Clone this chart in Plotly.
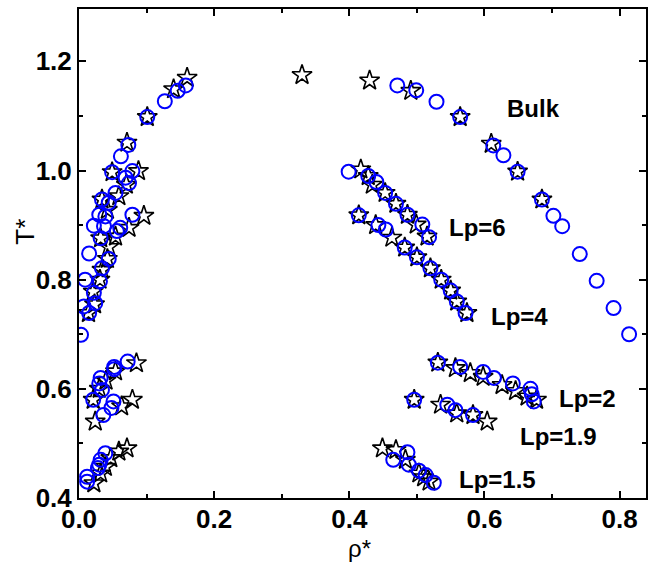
import plotly.graph_objects as go

# ---------------- data (rho*, T*) ----------------
# Bulk
bulk_circ_rho = [0.003, 0.007, 0.009, 0.015, 0.022, 0.030, 0.034, 0.049, 0.062, 0.073, 0.101, 0.127, 0.146, 0.158,
                 0.471, 0.499, 0.529, 0.564, 0.613, 0.628, 0.649, 0.685, 0.702, 0.715, 0.741, 0.766, 0.791, 0.814]
bulk_circ_T = [0.699, 0.751, 0.800, 0.848, 0.899, 0.919, 0.947, 0.997, 1.026, 1.047, 1.098, 1.127, 1.146, 1.156,
               1.156, 1.147, 1.126, 1.098, 1.046, 1.028, 0.998, 0.947, 0.917, 0.898, 0.847, 0.798, 0.748, 0.700]
bulk_star_rho = [0.034, 0.049, 0.071, 0.101, 0.140, 0.160, 0.330, 0.430, 0.491, 0.564, 0.610, 0.649, 0.685]
bulk_star_T = [0.947, 0.997, 1.051, 1.098, 1.149, 1.170, 1.175, 1.165, 1.146, 1.098, 1.049, 0.998, 0.947]

# Lp = 6
lp6_circ_rho = [0.079, 0.069, 0.074, 0.054, 0.044, 0.039, 0.037, 0.032,
                0.399, 0.428, 0.440, 0.453, 0.469, 0.486, 0.508, 0.518]
lp6_circ_T = [0.999, 0.987, 0.977, 0.959, 0.941, 0.916, 0.898, 0.876,
              0.998, 0.990, 0.979, 0.959, 0.939, 0.919, 0.901, 0.878]
lp6_star_rho = [0.088, 0.070, 0.059, 0.042, 0.032,
                0.417, 0.428, 0.434, 0.453, 0.469, 0.486, 0.499, 0.515]
lp6_star_T = [0.999, 0.974, 0.953, 0.928, 0.876,
              1.002, 0.990, 0.974, 0.959, 0.939, 0.919, 0.901, 0.879]

# Lp = 4
lp4_circ_rho = [0.079, 0.061, 0.056, 0.044, 0.034, 0.031, 0.022, 0.024, 0.015,
                0.414, 0.443, 0.454, 0.482, 0.500, 0.520, 0.536, 0.550, 0.559, 0.572]
lp4_circ_T = [0.919, 0.895, 0.889, 0.838, 0.821, 0.797, 0.776, 0.757, 0.739,
              0.918, 0.900, 0.892, 0.859, 0.841, 0.821, 0.800, 0.780, 0.760, 0.739]
lp4_star_rho = [0.096, 0.074, 0.054, 0.044, 0.042, 0.034, 0.031, 0.021, 0.023, 0.014,
                0.414, 0.439, 0.463, 0.482, 0.500, 0.520, 0.536, 0.550, 0.559, 0.574]
lp4_star_T = [0.917, 0.895, 0.879, 0.860, 0.838, 0.818, 0.800, 0.778, 0.755, 0.739,
              0.918, 0.900, 0.877, 0.859, 0.841, 0.821, 0.800, 0.780, 0.760, 0.739]

# Lp = 2
lp2_circ_rho = [0.072, 0.052, 0.052, 0.032, 0.030, 0.034,
                0.531, 0.564, 0.598, 0.614, 0.642, 0.668, 0.670, 0.673]
lp2_circ_T = [0.650, 0.640, 0.636, 0.620, 0.610, 0.598,
              0.648, 0.640, 0.631, 0.620, 0.610, 0.600, 0.590, 0.577]
lp2_star_rho = [0.085, 0.054, 0.040, 0.030,
                0.531, 0.557, 0.579, 0.598, 0.626, 0.646, 0.663, 0.677]
lp2_star_T = [0.647, 0.632, 0.615, 0.600,
              0.648, 0.638, 0.629, 0.622, 0.607, 0.596, 0.586, 0.580]

# Lp = 1.9
lp19_circ_rho = [0.021, 0.051, 0.048, 0.036,
                 0.496, 0.545, 0.557, 0.583]
lp19_circ_T = [0.580, 0.577, 0.565, 0.552,
               0.580, 0.571, 0.561, 0.552]
lp19_star_rho = [0.079, 0.063, 0.024, 0.021,
                 0.496, 0.535, 0.559, 0.583, 0.604]
lp19_star_T = [0.580, 0.568, 0.540, 0.580,
               0.580, 0.571, 0.555, 0.552, 0.540]

# Lp = 1.5
lp15_circ_rho = [0.039, 0.032, 0.030, 0.028, 0.012, 0.012,
                 0.486, 0.465, 0.488, 0.503, 0.513, 0.525]
lp15_circ_T = [0.482, 0.470, 0.461, 0.455, 0.439, 0.430,
               0.484, 0.470, 0.461, 0.450, 0.442, 0.428]
lp15_star_rho = [0.071, 0.059, 0.047, 0.039, 0.032, 0.022,
                 0.449, 0.469, 0.483, 0.503, 0.510, 0.518]
lp15_star_T = [0.491, 0.485, 0.473, 0.457, 0.445, 0.427,
               0.491, 0.488, 0.470, 0.445, 0.438, 0.430]

labels = ["Bulk", "Lp=6", "Lp=4", "Lp=2", "Lp=1.9", "Lp=1.5"]
label_rho = [0.630, 0.545, 0.606, 0.707, 0.650, 0.559]
label_T = [1.114, 0.895, 0.733, 0.583, 0.512, 0.433]

x_ticks = [0.0, 0.2, 0.4, 0.6, 0.8]
y_ticks = [0.4, 0.6, 0.8, 1.0, 1.2]

star_rho = bulk_star_rho + lp6_star_rho + lp4_star_rho + lp2_star_rho + lp19_star_rho + lp15_star_rho
star_T = bulk_star_T + lp6_star_T + lp4_star_T + lp2_star_T + lp19_star_T + lp15_star_T
circ_rho = bulk_circ_rho + lp6_circ_rho + lp4_circ_rho + lp2_circ_rho + lp19_circ_rho + lp15_circ_rho
circ_T = bulk_circ_T + lp6_circ_T + lp4_circ_T + lp2_circ_T + lp19_circ_T + lp15_circ_T

FONT = "Liberation Sans, Arial, Helvetica, sans-serif"

fig = go.Figure()
fig.add_trace(go.Scatter(
    x=star_rho, y=star_T, mode="markers", showlegend=False,
    marker=dict(symbol="star-open", size=15, color="black", line=dict(width=1.6, color="black")),
))
fig.add_trace(go.Scatter(
    x=circ_rho, y=circ_T, mode="markers", showlegend=False,
    marker=dict(symbol="circle-open", size=14, color="#0000ff", line=dict(width=2, color="#0000ff")),
))

for t, xr, yr in zip(labels, label_rho, label_T):
    fig.add_annotation(x=xr, y=yr, xref="x", yref="y", text=t, showarrow=False,
                       xanchor="left", yanchor="middle",
                       font=dict(family=FONT, size=24, color="black", weight="bold"))

# axis titles
fig.add_annotation(x=-0.095, y=0.545, xref="paper", yref="paper", text="T*", showarrow=False,
                   textangle=-90, xanchor="center", yanchor="middle",
                   font=dict(family=FONT, size=26, color="black"))
fig.add_annotation(x=0.495, y=-0.1331, xref="paper", yref="paper", text="ρ*", showarrow=False,
                   xanchor="center", yanchor="bottom", borderpad=0,
                   font=dict(family=FONT, size=24, color="black"))

axis_common = dict(
    showline=True, linewidth=2, linecolor="black", mirror="allticks",
    ticks="inside", ticklen=7, tickwidth=2, tickcolor="black",
    showgrid=False, zeroline=False,
    tickfont=dict(family=FONT, size=26, color="black", weight="bold"),
)
fig.update_xaxes(range=[0, 0.839], tickvals=x_ticks, ticktext=[f"{v:.1f}" for v in x_ticks],
                 ticklabelstandoff=-3,
                 minor=dict(dtick=0.1, ticks="inside", ticklen=4, tickwidth=2, tickcolor="black", showgrid=False),
                 **axis_common)
fig.update_yaxes(range=[0.4, 1.296], tickvals=y_ticks, ticktext=[f"{v:.1f}" for v in y_ticks],
                 minor=dict(dtick=0.1, ticks="inside", ticklen=4, tickwidth=2, tickcolor="black", showgrid=False),
                 **axis_common)

fig.update_layout(
    width=649, height=563,
    margin=dict(l=79, r=1, t=9, b=65),
    paper_bgcolor="white", plot_bgcolor="white",
)

fig.write_html("out.html")
